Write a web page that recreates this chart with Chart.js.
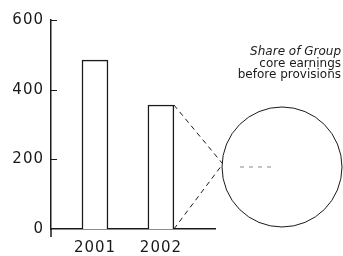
<!DOCTYPE html>
<html lang="en">
<head>
<meta charset="UTF-8">
<title>Core earnings</title>
<script src="https://cdn.jsdelivr.net/npm/chart.js"></script>
<style>
  html, body { margin: 0; padding: 0; background: #fff; }
  #wrap { width: 343px; height: 256px; }
</style>
</head>
<body>
<div id="wrap"><canvas id="earningsChart" width="343" height="256"></canvas></div>
<script>
  const years = [2001, 2002];
  const earnings = [485, 356];
  const yTicks = [0, 200, 400, 600];
  const noteLines = ['Share of Group', 'core earnings', 'before provisions'];

  const ink = '#1a1a1a';
  const font = 'DejaVu Sans';

  // inward tick marks, dashed lead lines, circle and note
  const extras = {
    id: 'extras',
    beforeDraw(chart) {
      chart.ctx.letterSpacing = '1px'; // wide lettering of the axis labels
    },
    afterDraw(chart) {
      const ctx = chart.ctx;
      const x = chart.scales.x, y = chart.scales.y;
      const area = chart.chartArea;
      ctx.save();
      ctx.letterSpacing = '0px';
      ctx.strokeStyle = ink;
      ctx.lineWidth = 1;
      yTicks.slice(1).forEach(v => {
        const py = Math.round(y.getPixelForValue(v)) + 0.5;
        ctx.beginPath();
        ctx.moveTo(area.left, py);
        ctx.lineTo(area.left + 6, py);
        ctx.stroke();
      });
      // y axis runs a little below the baseline
      ctx.lineWidth = 1.5;
      ctx.beginPath();
      ctx.moveTo(area.left, area.bottom);
      ctx.lineTo(area.left, area.bottom + 8);
      ctx.stroke();
      ctx.lineWidth = 1;

      // circle for the share of 2002
      const cx = area.right + 67;
      const cy = y.getPixelForValue(178);
      const r = 60;
      ctx.beginPath();
      ctx.arc(cx, cy, r, 0, Math.PI * 2);
      ctx.stroke();

      const barRight = x.getPixelForValue(years[1]) + 13;
      const top = y.getPixelForValue(earnings[1]);
      const base = y.getPixelForValue(0);
      ctx.setLineDash([5, 4]);
      ctx.beginPath();
      ctx.moveTo(barRight, top);
      ctx.lineTo(cx - r, cy - 4);
      ctx.moveTo(barRight, base);
      ctx.lineTo(cx - r, cy - 2);
      ctx.stroke();
      ctx.strokeStyle = '#888';
      ctx.setLineDash([4, 5]);
      ctx.beginPath();
      ctx.moveTo(cx - 42, cy);
      ctx.lineTo(cx - 6, cy);
      ctx.stroke();
      ctx.setLineDash([]);

      ctx.fillStyle = ink;
      ctx.textAlign = 'right';
      ctx.textBaseline = 'middle';
      noteLines.forEach((t, i) => {
        ctx.font = (i === 0 ? 'italic ' : '') + '12px ' + font;
        ctx.fillText(t, 341, 52 + i * 11.5);
      });
      ctx.restore();
    }
  };

  new Chart(document.getElementById('earningsChart'), {
    type: 'bar',
    data: {
      datasets: [{
        data: years.map((yr, i) => ({ x: yr, y: earnings[i] })),
        backgroundColor: '#fff',
        borderColor: ink,
        borderWidth: 1.5,
        barThickness: 26
      }]
    },
    options: {
      responsive: false,
      animation: false,
      layout: { padding: { top: 20, right: 128, left: 0, bottom: 0 } },
      plugins: { legend: { display: false }, tooltip: { enabled: false } },
      scales: {
        x: {
          type: 'linear',
          offset: false,
          min: 2000.333,
          max: 2002.82,
          afterBuildTicks: s => { s.ticks = years.map(v => ({ value: v })); },
          afterFit: s => { s.height = 27; },
          grid: { display: false, drawTicks: false },
          border: { display: true, color: ink, width: 1.5 },
          ticks: { color: ink, font: { family: font, size: 15 }, padding: 10, callback: v => String(v) }
        },
        y: {
          min: 0,
          max: 600,
          afterBuildTicks: s => { s.ticks = yTicks.map(v => ({ value: v })); },
          afterFit: s => { s.width = 51; },
          grid: { display: false, drawTicks: false },
          border: { display: true, color: ink, width: 1.5 },
          ticks: { color: ink, font: { family: font, size: 15 }, padding: 7 }
        }
      }
    },
    plugins: [extras]
  });
</script>
</body>
</html>
